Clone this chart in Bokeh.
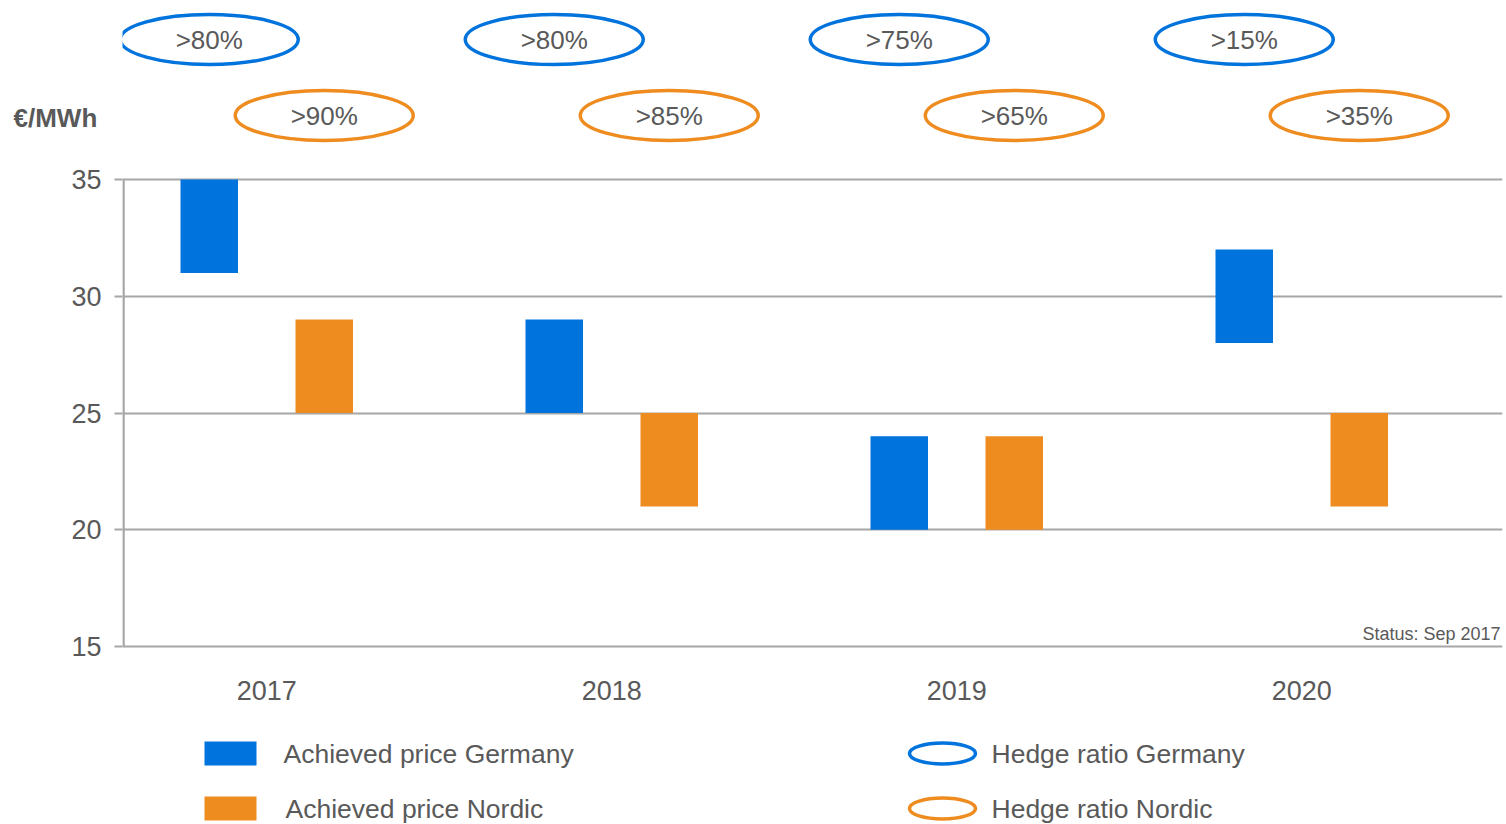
from bokeh.plotting import figure
from bokeh.layouts import column
from bokeh.models import (Range1d, FixedTicker, Label, ColumnDataSource)
from bokeh.core.properties import value
from bokeh.embed import file_html
from bokeh.resources import INLINE

# ---------------- data ----------------
years = ["2017", "2018", "2019", "2020"]
germany_low = [31, 25, 20, 28]
germany_high = [35, 29, 24, 32]
nordic_low = [25, 21, 20, 21]
nordic_high = [29, 25, 24, 25]
hedge_germany = [">80%", ">80%", ">75%", ">15%"]
hedge_nordic = [">90%", ">85%", ">65%", ">35%"]
y_ticks = [15, 20, 25, 30, 35]
unit_label = "€/MWh"
status_text = "Status: Sep 2017"
legend_labels = ["Achieved price Germany", "Achieved price Nordic",
                 "Hedge ratio Germany", "Hedge ratio Nordic"]

# ---------------- style ----------------
BLUE = "#0073DC"
ORANGE = "#EF8C20"
GRID = "#A6A6A6"
TEXT = "#595959"
FONT = "Liberation Sans"

W = 1506
MAIN_H = 740
LEG_H = 824 - MAIN_H

# geometry (pixels in figure coords)
frame_left = 122
frame_right_margin = 4
frame_bottom_px = 648          # from top of figure
px_per_unit_y = 23.35
px_per_unit_x = 345.0
x0_px = 266.25                 # x position of first category centre

frame_w = W - frame_left - frame_right_margin
frame_h = frame_bottom_px
y_start = 15 - 2 / px_per_unit_y
y_end = y_start + frame_h / px_per_unit_y
x_start = -(x0_px - frame_left) / px_per_unit_x
x_end = x_start + frame_w / px_per_unit_x


def y_from_px(py):  # py: figure px from top
    return y_start + (frame_bottom_px - py) / px_per_unit_y


def x_from_px(px):
    return x_start + (px - frame_left) / px_per_unit_x


p = figure(width=W, height=MAIN_H, output_backend="svg", toolbar_location=None,
           x_range=Range1d(x_start, x_end), y_range=Range1d(y_start, y_end),
           min_border_left=frame_left, min_border_right=frame_right_margin,
           min_border_top=0, min_border_bottom=MAIN_H - frame_bottom_px)
p.outline_line_color = None
p.background_fill_color = "white"
p.border_fill_color = "white"

xs = list(range(len(years)))
off = 1 / 6
bw = 1 / 6

# grid
p.xgrid.visible = False
p.ygrid.ticker = FixedTicker(ticks=y_ticks)
p.ygrid.grid_line_color = GRID
p.ygrid.grid_line_width = 2

# y axis
p.yaxis.ticker = FixedTicker(ticks=y_ticks)
p.yaxis.axis_line_color = None
p.yaxis.major_tick_out = 8
p.yaxis.major_tick_in = 0
p.yaxis.major_tick_line_color = GRID
p.yaxis.major_tick_line_width = 2
p.yaxis.minor_tick_line_color = None
p.yaxis.major_label_text_font = FONT
p.yaxis.major_label_text_font_size = "27px"
p.yaxis.major_label_text_color = TEXT
p.yaxis.major_label_standoff = 13

# x axis
p.xaxis.ticker = FixedTicker(ticks=xs)
p.xaxis.major_label_overrides = {i: y for i, y in enumerate(years)}
p.xaxis.axis_line_color = None
p.xaxis.major_tick_line_color = None
p.xaxis.minor_tick_line_color = None
p.xaxis.major_label_text_font = FONT
p.xaxis.major_label_text_font_size = "27px"
p.xaxis.major_label_text_color = TEXT
p.xaxis.major_label_standoff = 26

# vertical axis line from 15 to 35
p.segment(x0=[x_start + 1 / px_per_unit_x], y0=[min(y_ticks)],
          x1=[x_start + 1 / px_per_unit_x], y1=[max(y_ticks)],
          line_color=GRID, line_width=2.5)

# bars
src_g = ColumnDataSource(dict(x=[i - off for i in xs], bottom=germany_low, top=germany_high))
src_n = ColumnDataSource(dict(x=[i + off for i in xs], bottom=nordic_low, top=nordic_high))
p.vbar(x="x", bottom="bottom", top="top", width=bw, source=src_g,
       fill_color=BLUE, line_color=None)
p.vbar(x="x", bottom="bottom", top="top", width=bw, source=src_n,
       fill_color=ORANGE, line_color=None)

# hedge ratio ellipses
yg = y_from_px(39)
yn = y_from_px(115)
src_hg = ColumnDataSource(dict(x=[i - off for i in xs], y=[yg] * 4, t=hedge_germany))
src_hn = ColumnDataSource(dict(x=[i + off for i in xs], y=[yn] * 4, t=hedge_nordic))
for src, col in ((src_hg, BLUE), (src_hn, ORANGE)):
    p.ellipse(x="x", y="y", width=178, height=50, width_units="screen",
              height_units="screen", source=src, fill_color=None,
              line_color=col, line_width=3.5)
    p.text(x="x", y="y", text="t", source=src, text_align="center",
           text_baseline="middle", text_font=value(FONT),
           text_font_size="26px", text_color=TEXT)

# unit label: held in a side panel (so it is not clipped by the frame),
# drawn at canvas coordinates top-left of the plot
p.add_layout(Label(x=13, y=117, x_units="canvas", y_units="canvas", text=unit_label,
                   text_font=FONT, text_font_size="26px", text_font_style="bold",
                   text_color=TEXT, text_baseline="middle", text_align="left"), "below")
# status label
p.add_layout(Label(x=x_from_px(1500), y=y_from_px(633), text=status_text,
                   text_font=FONT, text_font_size="18px", text_color=TEXT,
                   text_baseline="middle", text_align="right"))

# ---------------- legend figure ----------------
# same horizontal borders as the main plot (column layout aligns the frames)
lg = figure(width=W, height=LEG_H, output_backend="svg", toolbar_location=None,
            x_range=Range1d(frame_left, W - frame_right_margin),
            y_range=Range1d(LEG_H, 0),
            x_axis_location=None, y_axis_location=None,
            min_border_left=frame_left, min_border_right=frame_right_margin,
            min_border_top=0, min_border_bottom=0)
lg.grid.visible = False
lg.outline_line_color = None
lg.border_fill_color = "white"

row_y = [753 - MAIN_H, 808 - MAIN_H]
lg.rect(x=[230, 230], y=row_y, width=52, height=24, fill_color=[BLUE, ORANGE],
        line_color=None)
lg.ellipse(x=[942, 942], y=row_y, width=66, height=21, fill_color=None,
           line_color=[BLUE, ORANGE], line_width=3.5)
lg.text(x=[283, 285, 991, 991], y=row_y + row_y, text=legend_labels,
        text_align="left", text_baseline="middle", text_font=value(FONT),
        text_font_size="26.5px", text_color=TEXT)

layout = column(p, lg, spacing=0)
open("out.html", "w").write(file_html(layout, INLINE))
